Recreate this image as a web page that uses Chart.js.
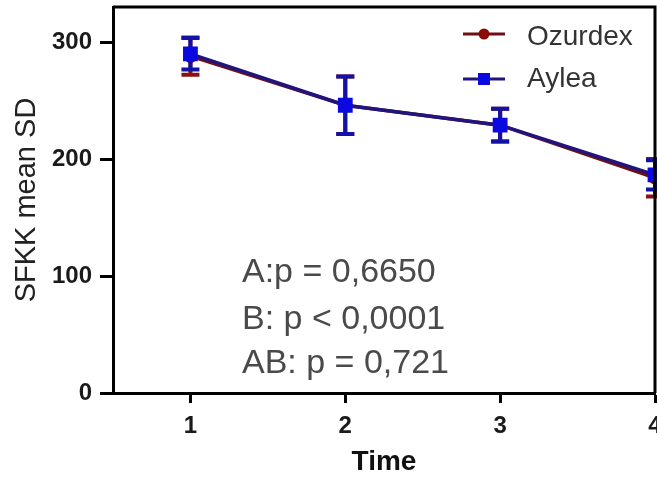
<!DOCTYPE html>
<html>
<head>
<meta charset="utf-8">
<script src="https://cdn.jsdelivr.net/npm/chart.js@4.4.1/dist/chart.umd.min.js"></script>
<style>
  html, body { margin: 0; padding: 0; background: #fff; overflow: hidden; }
  #grafica { display: block; }
</style>
</head>
<body>
<canvas id="grafica" width="720" height="481" style="width:720px;height:481px"></canvas>
<script>
// datos
const timePoints = [1, 2, 3, 4];
const ozurdexMean = [288, 246, 229, 184];
const ozurdexSd = [16, 24.5, 14, 16];
const ayleaMean = [290, 246, 229, 186.5];
const ayleaSd = [13.5, 24.5, 14, 12.5];
const xTicks = [1, 2, 3, 4];
const yTicks = [0, 100, 200, 300];
const pValues = ['A:p = 0,6650', 'B: p < 0,0001', 'AB: p = 0,721'];

const fuente = "'Liberation Sans', Arial, sans-serif";

const errorBars = {
  id: 'errorBars',
  beforeDatasetDraw(chart, args) {
    const ds = chart.data.datasets[args.index];
    const { ctx, scales: { x, y } } = chart;
    ctx.save();
    ctx.strokeStyle = ds.errorColor;
    ctx.lineWidth = 4;
    ds.data.forEach((p, i) => {
      const px = x.getPixelForValue(p.x);
      const top = y.getPixelForValue(p.y + ds.sd[i]);
      const bot = y.getPixelForValue(p.y - ds.sd[i]);
      ctx.beginPath();
      ctx.moveTo(px, top); ctx.lineTo(px, bot);
      ctx.moveTo(px - 9, top); ctx.lineTo(px + 9, top);
      ctx.moveTo(px - 9, bot); ctx.lineTo(px + 9, bot);
      ctx.stroke();
    });
    ctx.restore();
  }
};

const marco = {
  id: 'marco',
  afterDraw(chart) {
    const { ctx, chartArea: a } = chart;
    ctx.save();
    ctx.strokeStyle = '#000';
    ctx.lineWidth = 3;
    ctx.beginPath();
    ctx.moveTo(a.left, a.top);
    ctx.lineTo(a.right, a.top);
    ctx.lineTo(a.right, a.bottom);
    ctx.stroke();
    ctx.restore();
  }
};

const leyenda = {
  id: 'leyenda',
  afterDraw(chart) {
    const { ctx } = chart;
    const filas = [{ y: 34, base: 45 }, { y: 79, base: 87 }];
    ctx.save();
    chart.data.datasets.forEach((ds, i) => {
      const f = filas[i];
      ctx.strokeStyle = ds.borderColor;
      ctx.lineWidth = 3;
      ctx.beginPath();
      ctx.moveTo(463, f.y); ctx.lineTo(505, f.y);
      ctx.stroke();
      ctx.fillStyle = ds.pointBackgroundColor;
      if (ds.pointStyle === 'rect') {
        ctx.fillRect(478, f.y - 6, 12, 12);
      } else {
        ctx.beginPath();
        ctx.arc(484, f.y, 5.5, 0, Math.PI * 2);
        ctx.fill();
      }
      ctx.fillStyle = '#333';
      ctx.font = '28px ' + fuente;
      ctx.textBaseline = 'alphabetic';
      ctx.fillText(ds.label, 527, f.base);
    });

    // texto de p
    ctx.fillStyle = '#4a4a4a';
    ctx.font = '34px ' + fuente;
    const bases = [282, 329, 373];
    pValues.forEach((t, i) => ctx.fillText(t, 242, bases[i]));
    ctx.restore();
  }
};

const canvas = document.getElementById('grafica');

new Chart(canvas, {
  type: 'line',
  data: {
    datasets: [
      {
        label: 'Ozurdex',
        data: timePoints.map((t, i) => ({ x: t, y: ozurdexMean[i] })),
        sd: ozurdexSd,
        errorColor: '#8b1010',
        borderColor: '#6e0f14',
        borderWidth: 3.5,
        pointStyle: 'circle',
        pointRadius: 5,
        pointBackgroundColor: '#8b0a0a',
        pointBorderColor: '#8b0a0a',
        order: 1
      },
      {
        label: 'Aylea',
        data: timePoints.map((t, i) => ({ x: t, y: ayleaMean[i] })),
        sd: ayleaSd,
        errorColor: '#1212a6',
        borderColor: '#22147e',
        borderWidth: 3.5,
        pointStyle: 'rect',
        pointRadius: 8,
        pointBackgroundColor: '#0a0ae0',
        pointBorderColor: '#0a0ae0',
        order: 0
      }
    ]
  },
  options: {
    responsive: false,
    animation: false,
    layout: { autoPadding: false, padding: { left: 0, top: 7, right: 65, bottom: 0 } },
    scales: {
      x: {
        type: 'linear',
        min: 0.5,
        max: 4,
        afterBuildTicks: s => { s.ticks = xTicks.map(v => ({ value: v })); },
        afterFit: s => { s.height = 88; s.paddingLeft = 0; s.paddingRight = 0; },
        grid: { drawOnChartArea: false, tickLength: 10, tickWidth: 3, tickColor: '#000' },
        border: { display: true, color: '#000', width: 3 },
        ticks: { color: '#1a1a1a', padding: 9, autoSkip: false, maxRotation: 0,
                 font: { family: fuente, size: 24, weight: 'bold' } },
        title: { display: true, text: 'Time', color: '#111',
                 font: { family: fuente, size: 28, weight: 'bold', lineHeight: 1 },
                 padding: { top: 0, bottom: 5 } }
      },
      y: {
        min: 0,
        max: 330,
        afterBuildTicks: s => { s.ticks = yTicks.map(v => ({ value: v })); },
        afterFit: s => { s.width = 113; s.paddingTop = 0; s.paddingBottom = 0; },
        grid: { drawOnChartArea: false, tickLength: 13, tickWidth: 3, tickColor: '#000' },
        border: { display: true, color: '#000', width: 3 },
        ticks: { color: '#1a1a1a', padding: 8,
                 font: { family: fuente, size: 24, weight: 'bold' } },
        title: { display: true, text: 'SFKK mean SD', color: '#222',
                 font: { family: fuente, size: 29, lineHeight: 1 },
                 padding: { top: 12, bottom: 0 } }
      }
    },
    plugins: {
      legend: { display: false },
      tooltip: { enabled: false }
    }
  },
  plugins: [errorBars, marco, leyenda]
});
</script>
</body>
</html>
